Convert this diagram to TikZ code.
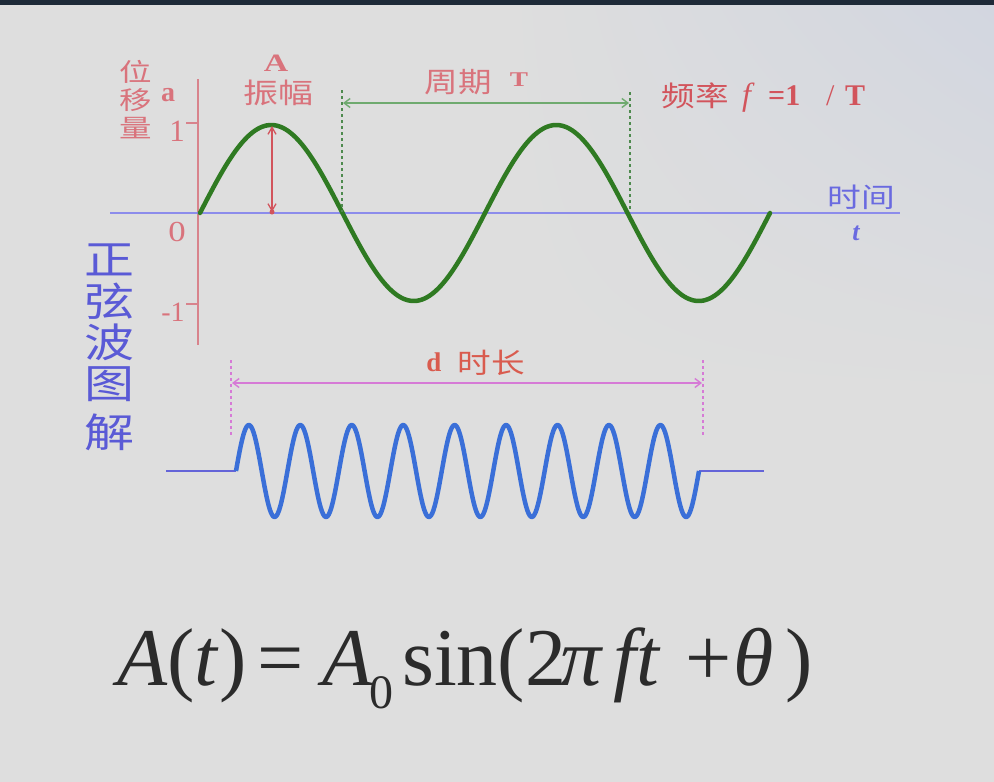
\documentclass[tikz,border=0pt]{standalone}
\usepackage{fontspec}
\setmainfont{Liberation Serif}
\newfontfamily\cjk{Noto Sans CJK SC}
\usetikzlibrary{arrows.meta,shadings}
\definecolor{bg}{HTML}{DEDEDE}
\definecolor{bgblue}{HTML}{D2D6E0}
\definecolor{topbar}{HTML}{1E2A38}
\definecolor{pinklab}{HTML}{D9737C}
\definecolor{redlab}{HTML}{D2545C}
\definecolor{axisred}{HTML}{D8838C}
\definecolor{axisblue}{HTML}{8C8CEB}
\definecolor{wavegreen}{HTML}{2F7A22}
\definecolor{arrowgreen}{HTML}{6FAA6F}
\definecolor{dotgreen}{HTML}{4E8A4E}
\definecolor{magentaln}{HTML}{D67AD6}
\definecolor{wavepblue}{HTML}{3A6FD8}
\definecolor{flatblue}{HTML}{6464D8}
\definecolor{titleblue}{HTML}{5A5AD6}
\definecolor{timeblue}{HTML}{6A6AE0}
\definecolor{formula}{HTML}{2B2B2B}
\newcommand{\wide}[2]{\scalebox{#1}[1]{#2}}
\tikzset{
  lab/.style={inner sep=0pt, text=pinklab},
  eqpart/.style={inner sep=0pt, anchor=base west, text=formula, font=\fontsize{82}{82}\selectfont},
  titlech/.style={inner sep=0pt, text=titleblue, font=\cjk\fontsize{40}{40}\selectfont},
  dimarrow/.style={line width=1.4pt, {Straight Barb[length=6pt,width=9pt]}-{Straight Barb[length=6pt,width=9pt]}},
}
\begin{document}
\begin{tikzpicture}[x=1pt,y=-1pt]
\useasboundingbox (0,0) rectangle (994,782);
\fill[bg] (0,0) rectangle (994,782);
\shade[upper left=bg, upper right=bgblue, lower left=bg, lower right=bg] (500,0) rectangle (994,400);
\fill[topbar] (0,0) rectangle (994,5);

% axes
\coordinate (yTop) at (198,79);
\coordinate (yBot) at (198,345);
\draw[axisred, line width=1.8pt] (yTop) -- (yBot);
\coordinate (t1a) at (186,123); \coordinate (t1b) at (198,123);
\coordinate (t2a) at (186,304); \coordinate (t2b) at (198,304);
\draw[axisred, line width=1.2pt] (t1a) -- (t1b);
\draw[axisred, line width=1.2pt] (t2a) -- (t2b);
\coordinate (xL) at (110,213);
\coordinate (xR) at (900,213);
\draw[axisblue, line width=1.8pt] (xL) -- (xR);

% green sine
\draw[wavegreen, line width=4.5pt, line cap=round, line join=round, domain=200:770, samples=240, smooth]
  plot (\x, {213-88*sin((\x-200)/285*360)});

% amplitude arrow
\coordinate (ampTop) at (272,126);
\coordinate (ampBot) at (272,212);
\draw[redlab, line width=1.3pt, {Straight Barb[length=7pt,width=8pt]}-{Straight Barb[length=7pt,width=8pt]}] (ampTop) -- (ampBot);
\fill[redlab] (ampBot) circle (2.5pt);

% period dimension
\coordinate (pLt) at (342,90); \coordinate (pLb) at (342,212);
\coordinate (pRt) at (630,92); \coordinate (pRb) at (630,212);
\draw[dotgreen, line width=1.5pt, dash pattern=on 3pt off 3pt] (pLt) -- (pLb);
\draw[dotgreen, line width=1.5pt, dash pattern=on 3pt off 3pt] (pRt) -- (pRb);
\coordinate (pA) at (343,103); \coordinate (pB) at (629,103);
\draw[arrowgreen, dimarrow] (pA) -- (pB);

% labels top
\node[lab, font=\cjk\fontsize{25}{25}\selectfont] (wei) at (136,72) {\wide{1.3}{位}};
\node[lab, font=\cjk\fontsize{25}{25}\selectfont] (yi) at (136,100) {\wide{1.3}{移}};
\node[lab, font=\cjk\fontsize{25}{25}\selectfont] (liang) at (136,128) {\wide{1.3}{量}};
\node[lab, font=\fontsize{28}{28}\selectfont\bfseries] (la) at (168,95) {a};
\node[lab, font=\fontsize{31}{31}\selectfont] (l1) at (177,131) {1};
\node[lab, font=\fontsize{29}{29}\selectfont] (l0) at (177,232) {\wide{1.2}{0}};
\node[lab, font=\fontsize{28}{28}\selectfont] (lm1) at (173,312) {-1};
\node[lab, font=\fontsize{25}{25}\selectfont\bfseries] (lA) at (276,63) {\wide{1.35}{A}};
\node[lab, font=\cjk\fontsize{28}{28}\selectfont] (zf) at (278,93) {\wide{1.25}{振幅}};
\node[lab, font=\cjk\fontsize{28}{28}\selectfont] (zq) at (458,82) {\wide{1.2}{周期}};
\node[lab, font=\fontsize{21}{21}\selectfont\bfseries] (zqT) at (519,80) {\wide{1.3}{T}};
\node[lab, text=redlab, font=\cjk\fontsize{28}{28}\selectfont] (pl) at (695,96) {\wide{1.2}{频率}};
\node[lab, text=redlab, anchor=base west, font=\fontsize{32}{32}\selectfont\itshape] (pf) at (742,105) {\textit{f}};
\node[lab, text=redlab, anchor=base west, font=\fontsize{30}{30}\selectfont\bfseries] (peq) at (768,105) {=1};
\node[lab, text=redlab, anchor=base west, font=\fontsize{30}{30}\selectfont] (pslash) at (826,105) {/};
\node[lab, text=redlab, anchor=base west, font=\fontsize{30}{30}\selectfont\bfseries] (pT) at (845,105) {T};
\node[inner sep=0pt, text=timeblue, font=\cjk\fontsize{27}{27}\selectfont] (sj) at (861,197) {\wide{1.25}{时间}};
\node[inner sep=0pt, text=timeblue, font=\fontsize{26}{26}\selectfont\itshape\bfseries] (tt) at (856,233) {t};

% title
\node[titlech] (c1) at (109,260) {\wide{1.25}{正}};
\node[titlech] (c2) at (109,301) {\wide{1.25}{弦}};
\node[titlech] (c3) at (109,342) {\wide{1.25}{波}};
\node[titlech] (c4) at (109,384) {\wide{1.25}{图}};
\node[titlech] (c5) at (109,432) {\wide{1.25}{解}};

% duration dimension
\coordinate (dLt) at (231,360); \coordinate (dLb) at (231,435);
\coordinate (dRt) at (703,360); \coordinate (dRb) at (703,435);
\draw[magentaln, line width=1.5pt, dash pattern=on 3pt off 3pt] (dLt) -- (dLb);
\draw[magentaln, line width=1.5pt, dash pattern=on 3pt off 3pt] (dRt) -- (dRb);
\coordinate (dA) at (232,383); \coordinate (dB) at (702,383);
\draw[magentaln, dimarrow] (dA) -- (dB);
\node[lab, text=redlab!85!orange, font=\fontsize{27}{27}\selectfont\bfseries] (dd) at (434,362) {d};
\node[lab, text=redlab!85!orange, font=\cjk\fontsize{28}{28}\selectfont] (dl) at (491,363) {\wide{1.2}{时长}};

% blue burst
\coordinate (fl1) at (166,471); \coordinate (fl2) at (236,471);
\coordinate (fr1) at (699,471); \coordinate (fr2) at (764,471);
\draw[flatblue, line width=2.5pt] (fl1) -- (fl2);
\draw[flatblue, line width=2.5pt] (fr1) -- (fr2);
\draw[wavepblue, line width=4.5pt, line join=round, domain=236:699, samples=400, smooth]
  plot (\x, {471-46*sin((\x-236)/51.444*360)});

% formula
\node[eqpart] (eq1) at (117,685) {\textit{A}(\textit{t})};
\node[eqpart] (eq2) at (257,685) {=};
\node[eqpart] (eq3) at (322,685) {\textit{A}};
\node[eqpart, font=\fontsize{48}{48}\selectfont] (eq4) at (369,708) {0};
\node[eqpart] (eq5) at (402,685) {sin(2};
\node[eqpart] (eq6) at (560,685) {\textit{π}};
\node[eqpart] (eq7) at (613,685) {\textit{ft}};
\node[eqpart] (eq8) at (685,685) {+};
\node[eqpart] (eq9) at (733,685) {\textit{θ}};
\node[eqpart] (eq10) at (785,685) {)};
\end{tikzpicture}
\end{document}
